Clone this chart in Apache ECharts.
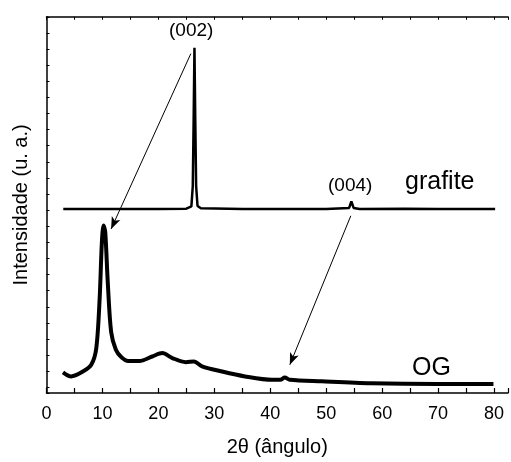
<!DOCTYPE html>
<html>
<head>
<meta charset="utf-8">
<script src="https://cdn.jsdelivr.net/npm/echarts@6/dist/echarts.min.js"></script>
<style>
  html, body { margin: 0; padding: 0; background: #fff; }
  #chart { width: 511px; height: 462px; }
</style>
</head>
<body>
<div id="chart"></div>
<script>
// 2θ (graus) e intensidade (u. a., deslocada)
const grafiteX = [3, 10, 20, 25, 25.9, 26.15, 26.3, 26.45, 26.6, 26.75, 27.0, 27.6, 35, 44.2, 44.5, 44.8, 50, 54.1, 54.5, 54.9, 56, 64, 70, 77.3, 77.6, 77.9, 80.2];
const grafiteY = [48.9, 48.9, 48.9, 49.0, 49.6, 55, 72, 91.8, 72, 55, 49.7, 49.1, 48.9, 48.9, 49.4, 48.9, 48.9, 49.2, 50.9, 49.2, 48.9, 49.0, 48.9, 48.9, 49.4, 48.9, 48.9];

const ogX = [2.95, 4.4, 6.5, 8.0, 8.9, 9.5, 9.9, 10.2, 10.5, 10.95, 11.55, 12.4, 13.4, 14.6, 16.6, 18.9, 20.7, 22.5, 24.9, 26.35, 27.8, 31.4, 35.5, 40.3, 41.8, 42.6, 43.5, 49.2, 58, 69.9, 79.9];
const ogY = [5.5, 4.4, 5.7, 7.5, 11.9, 25.1, 40.1, 44.5, 42.8, 29.5, 16.3, 11.5, 9.5, 8.5, 8.5, 9.7, 10.6, 9.3, 8.2, 8.4, 7.1, 5.7, 4.4, 3.5, 3.5, 4.1, 3.5, 3.1, 2.6, 2.4, 2.4];

const xTicks = [0, 10, 20, 30, 40, 50, 60, 70, 80];

// setas: [x0, y0, x1, y1]
const arrow002 = [25.8, 90.2, 11.55, 43.6];
const arrow004 = [54.4, 47.1, 43.5, 7.5];

const chart = echarts.init(document.getElementById('chart'));

const font = 'Liberation Sans, Arial, sans-serif';

const option = {
  animation: false,
  grid: { left: 46.5, top: 16.8, right: 0, bottom: 67 },
  xAxis: [
    {
      type: 'value',
      min: 0,
      max: 82.5,
      interval: 5,
      name: '2θ (ângulo)',
      nameLocation: 'middle',
      nameGap: 44,
      nameTextStyle: { color: '#000', fontSize: 20, fontFamily: font },
      axisLine: { show: true, lineStyle: { color: '#000', width: 1.5 } },
      axisTick: { show: true, inside: true, length: 5, lineStyle: { color: '#000', width: 1.2 } },
      axisLabel: {
        color: '#000', fontSize: 18, fontFamily: font, margin: 12,
        formatter: function (v) { return xTicks.indexOf(v) >= 0 ? String(v) : ''; }
      },
      splitLine: { show: false }
    },
    {
      type: 'value',
      position: 'top',
      min: 0,
      max: 82.5,
      interval: 5,
      axisLine: { show: true, lineStyle: { color: '#000', width: 1.5 } },
      axisTick: { show: true, inside: true, length: 3, lineStyle: { color: '#000', width: 1 } },
      axisLabel: { show: false },
      splitLine: { show: false }
    }
  ],
  yAxis: [
    {
      type: 'value',
      min: 0,
      max: 100,
      name: 'Intensidade (u. a.)',
      nameLocation: 'middle',
      nameGap: 15,
      nameTextStyle: { color: '#000', fontSize: 20, fontFamily: font },
      axisLine: { show: true, lineStyle: { color: '#000', width: 1.5 } },
      axisTick: { show: false },
      axisLabel: { show: false },
      splitLine: { show: false }
    },
    {
      // só para os traços pequenos do eixo esquerdo
      type: 'value',
      position: 'left',
      inverse: true,
      min: 0,
      max: 23.35,
      interval: 1,
      axisLine: { show: false },
      axisTick: { show: true, inside: true, length: 3, lineStyle: { color: '#000', width: 1 } },
      axisLabel: { show: false },
      splitLine: { show: false }
    }
  ],
  series: [
    {
      name: 'grafite',
      type: 'line',
      data: grafiteX.map((x, i) => [x, grafiteY[i]]),
      showSymbol: false,
      lineStyle: { color: '#000', width: 2.5 }
    },
    {
      name: 'OG',
      type: 'line',
      data: ogX.map((x, i) => [x, ogY[i]]),
      smooth: 0.3,
      showSymbol: false,
      lineStyle: { color: '#000', width: 4 },
      markLine: {
        silent: true,
        symbol: ['none', 'arrow'],
        symbolSize: [7, 12],
        label: { show: false },
        lineStyle: { color: '#000', width: 1, type: 'solid' },
        data: [
          [{ coord: [arrow002[0], arrow002[1]] }, { coord: [arrow002[2], arrow002[3]] }],
          [{ coord: [arrow004[0], arrow004[1]] }, { coord: [arrow004[2], arrow004[3]] }]
        ]
      }
    }
  ],
  graphic: [
    { type: 'text', left: 169, top: 21, style: { text: '(002)', fill: '#000', font: '19px ' + font } },
    { type: 'text', left: 328, top: 176, style: { text: '(004)', fill: '#000', font: '19px ' + font } },
    { type: 'text', left: 405, top: 170, style: { text: 'grafite', fill: '#000', font: '25px ' + font } },
    { type: 'text', left: 412, top: 356, style: { text: 'OG', fill: '#000', font: '25px ' + font } }
  ]
};

chart.setOption(option);
</script>
</body>
</html>
